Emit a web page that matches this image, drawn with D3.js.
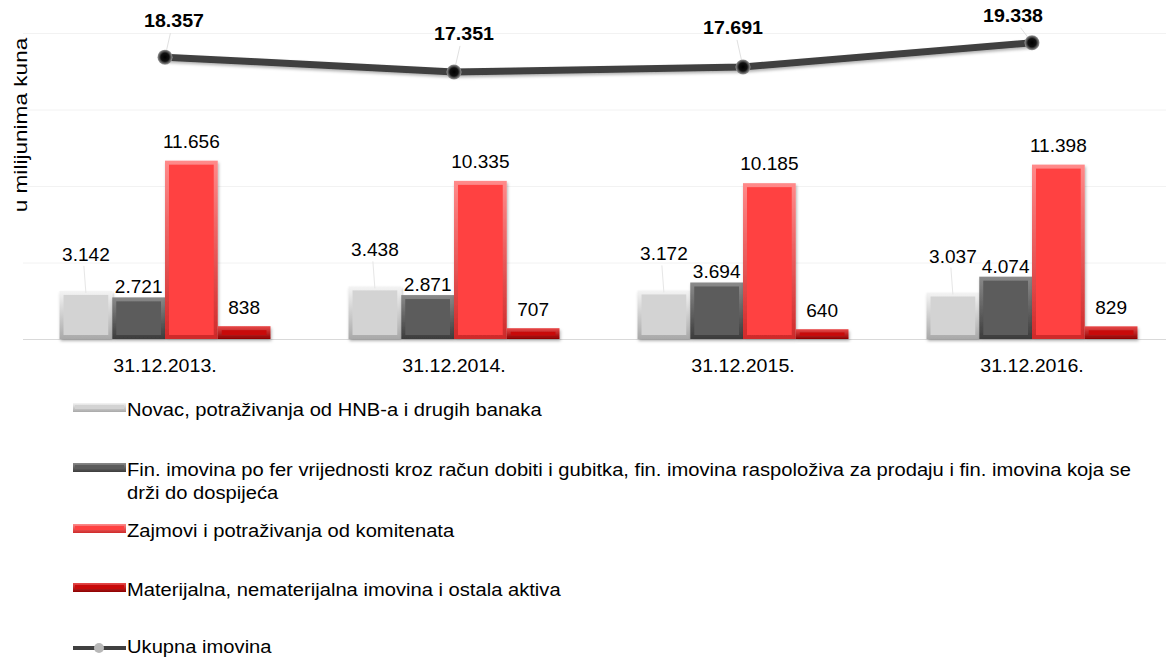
<!DOCTYPE html>
<html>
<head>
<meta charset="utf-8">
<script src="https://cdn.jsdelivr.net/npm/d3@7"></script>
<style>
  body { margin: 0; background: #fff; }
  text { font-family: Arial, "Liberation Sans", sans-serif; fill: #000; }
</style>
</head>
<body>
<div id="chart"></div>
<script>
// data
var categories = ["31.12.2013.", "31.12.2014.", "31.12.2015.", "31.12.2016."];
var novac = [3142, 3438, 3172, 3037];
var finImovina = [2721, 2871, 3694, 4074];
var zajmovi = [11656, 10335, 10185, 11398];
var materijalna = [838, 707, 640, 829];
var ukupnaImovina = [18357, 17351, 17691, 19338];
var seriesNames = [
  "Novac, potraživanja od HNB-a i drugih banaka",
  "Fin. imovina po fer vrijednosti kroz račun dobiti i gubitka, fin. imovina raspoloživa za prodaju i fin. imovina koja se|drži do dospijeća",
  "Zajmovi i potraživanja od komitenata",
  "Materijalna, nematerijalna imovina i ostala aktiva",
  "Ukupna imovina"
];
var gridTicks = [0, 5000, 10000, 15000, 20000];

var barSeries = [novac, finImovina, zajmovi, materijalna];

// look of each bar series: face, light edge, dark edge, label lift
var styles = [
  {face: "#d3d3d3", hi: "#f4f4f4", lo: "#a9a9a9", lift: 30},
  {face: "#5c5c5c", hi: "#8a8a8a", lo: "#3c3c3c", lift: 4},
  {face: "#ff4141", hi: "#ff8a8a", lo: "#cf2a2a", lift: 13},
  {face: "#c80a0a", hi: "#ea4a4a", lo: "#8e0000", lift: 12}
];

var W = 1166, H = 659;
var stretch = 1.06; // the source text is a bit wider than Arial
var fmt = d3.formatLocale({decimal: ",", thousands: ".", grouping: [3], currency: ["", ""]}).format(",");

function place(x, y, s) { return "translate(" + x + "," + y + ") scale(" + (s || stretch) + ",1)"; }

var svg = d3.select("#chart").append("svg")
  .attr("width", W).attr("height", H);

var defs = svg.append("defs");
styles.forEach(function(s, i) {
  var g = defs.append("linearGradient").attr("id", "edge" + i)
    .attr("x1", 0).attr("y1", 0).attr("x2", 0).attr("y2", 1);
  g.append("stop").attr("offset", "0%").attr("stop-color", s.hi);
  g.append("stop").attr("offset", "100%").attr("stop-color", s.lo);
});
var shadow = defs.append("filter").attr("id", "shadow")
  .attr("x", "-20%").attr("y", "-20%").attr("width", "140%").attr("height", "160%");
shadow.append("feDropShadow").attr("dx", 1).attr("dy", 2).attr("stdDeviation", 1.5)
  .attr("flood-color", "#000").attr("flood-opacity", 0.3);
var dotGrad = defs.append("radialGradient").attr("id", "dotGrad");
dotGrad.append("stop").attr("offset", "0%").attr("stop-color", "#000");
dotGrad.append("stop").attr("offset", "55%").attr("stop-color", "#111");
dotGrad.append("stop").attr("offset", "100%").attr("stop-color", "#9a9a9a");

// scales
var x0 = d3.scaleBand().domain(categories).range([20.5, 1176.5])
  .paddingInner(0.27).paddingOuter(0.135);
var x1 = d3.scaleBand().domain(d3.range(barSeries.length)).range([0, x0.bandwidth()]);
var y = d3.scaleLinear().domain([0, 20000]).range([339, 33]);
var y2 = d3.scaleLinear().domain([15000, 20000]).range([106.5, 33]);

// grid
svg.append("g").selectAll("line").data(gridTicks).enter().append("line")
  .attr("x1", 23).attr("x2", W)
  .attr("y1", function(d) { return y(d) + 0.5; })
  .attr("y2", function(d) { return y(d) + 0.5; })
  .attr("stroke", function(d) { return d === 0 ? "#d9d9d9" : "#f2f2f2"; });

// y title
svg.append("text")
  .attr("transform", "translate(27,125) rotate(-90) scale(1.19,1)")
  .attr("text-anchor", "middle")
  .style("font-size", "19px")
  .text("u milijunima kuna");

// x axis labels
svg.append("g").selectAll("text").data(categories).enter().append("text")
  .attr("transform", function(d) { return place(x0(d) + x0.bandwidth() / 2, 372); })
  .attr("text-anchor", "middle")
  .style("font-size", "18.5px")
  .text(function(d) { return d; });

// bars
function drawBar(sel, s, i) {
  sel.append("rect")
    .attr("x", function(d) { return d.x; })
    .attr("y", function(d) { return y(d.v); })
    .attr("width", x1.bandwidth())
    .attr("height", function(d) { return y(0) - y(d.v); })
    .attr("fill", "url(#edge" + i + ")")
    .attr("filter", "url(#shadow)");
  sel.append("rect")
    .attr("x", function(d) { return d.x + 4; })
    .attr("y", function(d) { return y(d.v) + Math.min(4, (y(0) - y(d.v)) / 3); })
    .attr("width", x1.bandwidth() - 8)
    .attr("height", function(d) { return Math.max(0, y(0) - y(d.v) - 2 * Math.min(4, (y(0) - y(d.v)) / 3)); })
    .attr("fill", s.face);
}

barSeries.forEach(function(vals, i) {
  var s = styles[i];
  var pts = vals.map(function(v, j) { return {v: v, x: x0(categories[j]) + x1(i)}; });
  var g = svg.append("g").selectAll("g").data(pts).enter().append("g");
  drawBar(g, s, i);
  if (s.lift > 20) {
    g.append("line")
      .attr("x1", function(d) { return d.x + x1.bandwidth() / 2; })
      .attr("x2", function(d) { return d.x + x1.bandwidth() / 2 - 2; })
      .attr("y1", function(d) { return y(d.v) + 2; })
      .attr("y2", function(d) { return y(d.v) - s.lift + 5; })
      .attr("stroke", "#e6e6e6");
  }
  g.append("text")
    .attr("transform", function(d) { return place(d.x + x1.bandwidth() / 2, y(d.v) - s.lift); })
    .attr("text-anchor", "middle")
    .style("font-size", "18px")
    .text(function(d) { return fmt(d.v); });
});

// total line
var lineLabelDx = [9, 10, -10, -19];
var lineLabelDy = [-30, -32, -33, -21];
var linePts = ukupnaImovina.map(function(v, j) {
  return {v: v, x: x0(categories[j]) + x0.bandwidth() / 2, y: y2(v), j: j};
});
var lg = svg.append("g");
lg.append("path")
  .datum(linePts)
  .attr("fill", "none")
  .attr("stroke", "#404040")
  .attr("stroke-width", 7)
  .attr("filter", "url(#shadow)")
  .attr("d", d3.line().x(function(d) { return d.x; }).y(function(d) { return d.y; }));
lg.selectAll("line").data(linePts).enter().append("line")
  .attr("x1", function(d) { return d.x; })
  .attr("y1", function(d) { return d.y; })
  .attr("x2", function(d) { return d.x + lineLabelDx[d.j] * 0.6; })
  .attr("y2", function(d) { return d.y + lineLabelDy[d.j] + 6; })
  .attr("stroke", "#e0e0e0");
lg.selectAll("circle").data(linePts).enter().append("circle")
  .attr("cx", function(d) { return d.x; })
  .attr("cy", function(d) { return d.y; })
  .attr("r", 7.5)
  .attr("fill", "url(#dotGrad)");
lg.selectAll("text").data(linePts).enter().append("text")
  .attr("transform", function(d) { return place(d.x + lineLabelDx[d.j], d.y + lineLabelDy[d.j]); })
  .attr("text-anchor", "middle")
  .style("font-size", "18.5px")
  .style("font-weight", "bold")
  .text(function(d) { return fmt(d.v); });

// legend
var legendY = [416, 476, 537, 596, 653];
var leg = svg.append("g");
seriesNames.forEach(function(name, i) {
  var row = leg.append("g").attr("transform", "translate(0," + legendY[i] + ")");
  if (i < 4) {
    row.append("rect").attr("x", 73).attr("y", -13).attr("width", 53).attr("height", 9)
      .attr("fill", "url(#edge" + i + ")");
    row.append("rect").attr("x", 75).attr("y", -11).attr("width", 49).attr("height", 4)
      .attr("fill", styles[i].face);
  } else {
    row.append("line").attr("x1", 73).attr("x2", 126).attr("y1", -5).attr("y2", -5)
      .attr("stroke", "#404040").attr("stroke-width", 4);
    row.append("circle").attr("cx", 99).attr("cy", -5).attr("r", 5).attr("fill", "#b8b8b8");
  }
  var t = row.append("text").attr("transform", place(127, 0, 1.09)).style("font-size", "18.5px");
  name.split("|").forEach(function(part, k) {
    t.append("tspan").attr("x", 0).attr("dy", k === 0 ? 0 : 23).text(part);
  });
});
</script>
</body>
</html>
